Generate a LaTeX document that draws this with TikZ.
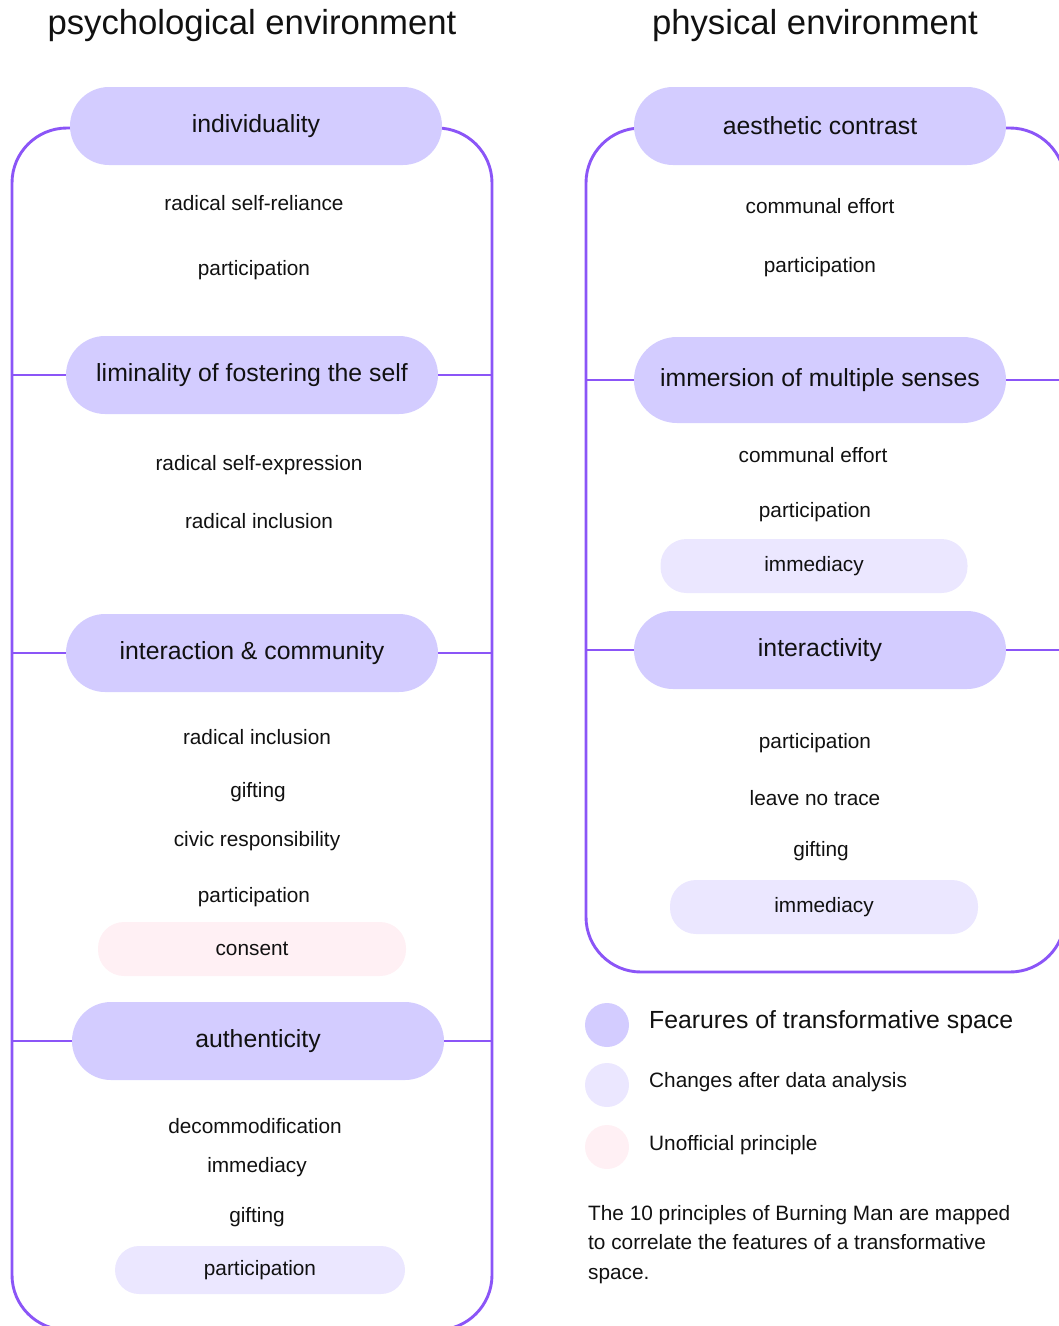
\documentclass[tikz,border=0pt]{standalone}
\usepackage{fontspec}
\setmainfont{Liberation Sans}
\usetikzlibrary{calc}

\definecolor{featfill}{HTML}{D3CCFF}
\definecolor{changefill}{HTML}{EBE7FF}
\definecolor{unofffill}{HTML}{FFF0F4}
\definecolor{framepurple}{HTML}{8B55F7}
\definecolor{inkblack}{HTML}{111111}

\tikzset{
  groupframe/.style={draw=framepurple, line width=2.9pt, rounded corners=55pt},
  link/.style={draw=framepurple, line width=2.9pt},
  feature/.style={fill=featfill, rounded corners=39pt, minimum width=372pt,
    minimum height=78pt, inner sep=0pt, text=inkblack,
    font=\fontsize{24.8}{29}\selectfont},
  change/.style={fill=changefill, rounded corners=26pt, minimum height=54pt,
    inner sep=0pt, text=inkblack, font=\fontsize{20.8}{25}\selectfont},
  unofficial/.style={change, fill=unofffill},
  item/.style={inner sep=0pt, text=inkblack, font=\fontsize{20.8}{25}\selectfont},
  heading/.style={inner sep=0pt, text=inkblack, font=\fontsize{34.7}{41}\selectfont},
  legdot/.style={circle, minimum size=44pt, inner sep=0pt},
  legtext/.style={anchor=west, inner sep=0pt, text=inkblack}
}

\begin{document}
\begin{tikzpicture}[x=1pt, y=-1pt]
  \useasboundingbox (0,0) rectangle (1059,1326);

  % headings
  \node[heading] (psyhead) at (252,26) {psychological environment};
  \node[heading] (phyhead) at (815,26) {physical environment};

  % group frames
  \draw[groupframe] (12,128) rectangle (492,1330);
  \draw[groupframe] (586,128) rectangle (1065,972);
  \coordinate (psyL) at (12,0);
  \coordinate (psyR) at (492,0);
  \coordinate (phyL) at (586,0);
  \coordinate (phyR) at (1065,0);

  % psychological features
  \node[feature] (indiv) at (256,126) {individuality};
  \node[feature] (limin) at (252,375) {liminality of fostering the self};
  \node[feature] (inter) at (252,653) {interaction \& community};
  \node[feature] (authen) at (258,1041) {authenticity};

  % physical features
  \node[feature] (aesth) at (820,126) {aesthetic contrast};
  \node[feature, minimum height=86pt, rounded corners=43pt] (immers) at (820,380) {immersion of multiple senses};
  \node[feature] (interact) at (820,650) {interactivity};

  % links from features to frame sides
  \foreach \f in {limin, inter, authen} {
    \draw[link] (\f.west) -- (\f.west -| psyL);
    \draw[link] (\f.east) -- (\f.east -| psyR);
  }
  \foreach \f in {immers, interact} {
    \draw[link] (\f.west) -- (\f.west -| phyL);
    \draw[link] (\f.east) -- (\f.east -| phyR);
  }

  % principles: individuality
  \node[item] (p1) at (254,203) {radical self-reliance};
  \node[item] (p2) at (254,270) {participation};
  % principles: liminality
  \node[item] (p3) at (259,465) {radical self-expression};
  \node[item] (p4) at (259,521) {radical inclusion};
  % principles: interaction & community
  \node[item] (p5) at (257,737) {radical inclusion};
  \node[item] (p6) at (258,792) {gifting};
  \node[item] (p7) at (257,841) {civic responsibility};
  \node[item] (p8) at (254,897) {participation};
  \node[unofficial, minimum width=308pt] (p9) at (252,949) {consent};
  % principles: authenticity
  \node[item] (p10) at (255,1126) {decommodification};
  \node[item] (p11) at (257,1167) {immediacy};
  \node[item] (p12) at (257,1217) {gifting};
  \node[change, minimum width=290pt, minimum height=48pt, rounded corners=24pt] (p13) at (260,1270) {participation};

  % principles: aesthetic contrast
  \node[item] (q1) at (820,206) {communal effort};
  \node[item] (q2) at (820,267) {participation};
  % principles: immersion
  \node[item] (q3) at (813,455) {communal effort};
  \node[item] (q4) at (815,512) {participation};
  \node[change, minimum width=307pt] (q5) at (814,566) {immediacy};
  % principles: interactivity
  \node[item] (q6) at (815,743) {participation};
  \node[item] (q7) at (815,798) {leave no trace};
  \node[item] (q8) at (821,851) {gifting};
  \node[change, minimum width=308pt] (q9) at (824,907) {immediacy};

  % legend
  \node[legdot, fill=featfill] (legfeat) at (607,1025) {};
  \node[legdot, fill=changefill] (legchange) at (607,1085) {};
  \node[legdot, fill=unofffill] (legunoff) at (607,1147) {};
  \node[legtext, font=\fontsize{24.8}{29}\selectfont] (legfeattext) at (649,1022) {Fearures of transformative space};
  \node[legtext, font=\fontsize{20.8}{25}\selectfont] (legchangetext) at (649,1082) {Changes after data analysis};
  \node[legtext, font=\fontsize{20.8}{25}\selectfont] (legunofftext) at (649,1145) {Unofficial principle};

  % note
  \node[anchor=north west, align=left, inner sep=0pt, text=inkblack,
        font=\fontsize{20.8}{29.5}\selectfont] (note) at (588,1205)
    {The 10 principles of Burning Man are mapped\\
     to correlate the features of a transformative\\
     space.};
\end{tikzpicture}
\end{document}
